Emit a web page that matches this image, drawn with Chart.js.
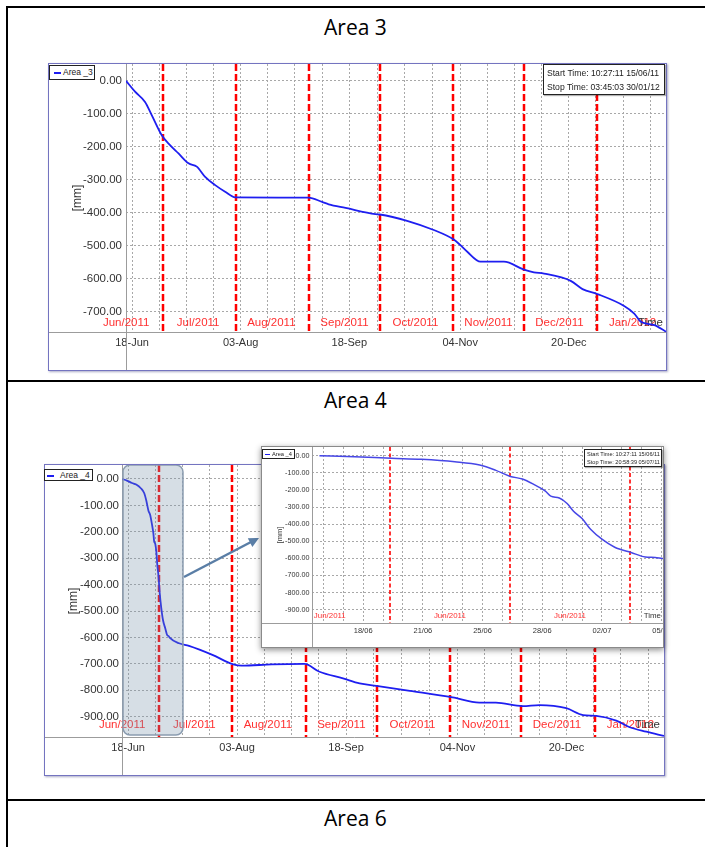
<!DOCTYPE html>
<html>
<head>
<meta charset="utf-8">
<title>Area 3 / Area 4</title>
<script src="https://cdn.jsdelivr.net/npm/chart.js@4.4.1/dist/chart.umd.min.js"></script>
<style>
  body { margin: 0; background: #fff; }
  #page { position: relative; width: 705px; height: 847px; overflow: hidden; font-family: 'Liberation Sans', Arial, sans-serif; }
  .rule { position: absolute; background: #000; }
  .cap { position: absolute; left: 8px; width: 695px; text-align: center; font-family: 'Open Sans', sans-serif; font-size: 21px; line-height: 30px; color: #000; }
  .frame { position: absolute; border: 1px solid #7474c0; box-shadow: 1px 1px 2px rgba(70, 70, 130, .45); background: #fff; overflow: hidden; }
  .frame canvas { position: absolute; left: 0; top: 0; }
  .legend { position: absolute; box-sizing: border-box; background: #fff; border: 1px solid #222; color: #222; white-space: nowrap; z-index: 5; }
  .legend i { display: inline-block; background: #1e1ef0; vertical-align: middle; }
  .info { position: absolute; box-sizing: border-box; background: #fff; border: 1.5px solid #222; box-shadow: 1px 1px 1px rgba(0, 0, 0, .3); color: #222; white-space: nowrap; z-index: 5; }
</style>
</head>
<body>
<div id="page">
  <div class="rule" style="left:6px;top:6px;width:699px;height:2px"></div>
  <div class="rule" style="left:6px;top:6px;width:2px;height:841px"></div>
  <div class="rule" style="left:6px;top:380px;width:699px;height:2px"></div>
  <div class="rule" style="left:6px;top:799px;width:699px;height:2px"></div>

  <div class="cap" style="top:12px">Area 3</div>
  <div class="cap" style="top:385px">Area 4</div>
  <div class="cap" style="top:803px">Area 6</div>

  <!-- chart1 : Area 3 -->
  <div class="frame" style="left:48px;top:63px;width:617px;height:306px">
    <canvas id="chart1" width="617" height="306"></canvas>
  </div>
  <div class="legend" style="left:49px;top:65px;width:46px;height:15px;font-size:8.5px;line-height:13px">
    <i style="width:7px;height:1.5px;margin:0 2px 0 4px"></i>Area _3
  </div>
  <div class="info" style="left:543px;top:64px;width:122px;height:31px;font-size:8.6px;line-height:14px;padding:1px 0 0 3px">
    Start Time: 10:27:11 15/06/11<br>Stop Time: 03:45:03 30/01/12
  </div>

  <!-- chart2 : Area 4 -->
  <div class="frame" style="left:44px;top:464px;width:619px;height:310px;z-index:1">
    <canvas id="chart2" width="619" height="310"></canvas>
  </div>
  <div class="legend" style="left:44px;top:469px;width:49px;height:12px;font-size:8.5px;line-height:10px">
    <i style="width:7px;height:1.5px;margin:0 6px 0 2px"></i>Area _4
  </div>

  <svg style="position:absolute;left:0;top:0;z-index:2" width="705" height="847">
    <line x1="184" y1="577" x2="251" y2="542" stroke="#5a7ea6" stroke-width="2.5"/>
    <polygon points="259,538 252.4,547 247.8,538.2" fill="#5a7ea6"/>
  </svg>

  <!-- chart3 : Area 4 zoom -->
  <div class="frame" style="left:261px;top:446px;width:401px;height:200px;z-index:3;border-color:#8a8a8a;box-shadow:0 2px 6px rgba(0,0,0,.45)">
    <canvas id="chart3" width="406" height="200"></canvas>
  </div>
  <div class="legend" style="left:262px;top:449px;width:33px;height:10px;font-size:5.7px;line-height:8px;z-index:6">
    <i style="width:5px;height:1px;margin:0 2px 0 2px"></i>Area _4
  </div>
  <div class="info" style="left:584px;top:449px;width:78px;height:18px;font-size:5.6px;line-height:8px;padding:0 0 0 2px;border-width:1px;z-index:6">
    Start Time: 10:27:11 15/06/11<br>Stop Time: 20:58:39 05/07/11
  </div>
</div>

<script>
  "use strict";

  // data
  var area3Start = '2011-06-15 10:27';
  var area3Stop = '2012-01-30 03:45';
  var area3Dates = ['2011-06-15 10:27', '2011-06-19 06:30', '2011-06-23 12:00', '2011-06-26 08:00', '2011-06-30 14:00',
    '2011-07-04 02:00', '2011-07-07 16:00', '2011-07-11 22:00', '2011-07-15 10:00', '2011-07-18 23:00', '2011-07-23 05:00',
    '2011-07-27 10:00', '2011-07-31 17:00', '2011-08-31 19:00', '2011-09-06 12:00', '2011-09-09 07:00', '2011-09-16 10:00',
    '2011-09-29 02:00', '2011-09-30 22:00', '2011-10-12 12:00', '2011-10-23 19:00', '2011-11-01 07:00', '2011-11-04 02:00',
    '2011-11-07 00:00', '2011-11-12 14:00', '2011-11-22 12:00', '2011-12-01 00:00', '2011-12-05 05:00', '2011-12-09 12:00',
    '2011-12-20 19:00', '2011-12-25 19:00', '2012-01-01 02:00', '2012-01-12 10:00', '2012-01-16 17:00', '2012-01-19 12:00',
    '2012-01-25 05:00', '2012-01-30 03:45'];
  var area3Values = [0, -33, -64, -104, -165,
    -195, -220, -250, -260, -291, -316,
    -336, -353, -354, -367, -374, -385,
    -404, -405, -424, -452, -481, -498,
    -518, -548, -548, -572, -580, -584,
    -606, -631, -646, -682, -705, -730,
    -740, -760];

  var area4Start = '2011-06-15 10:27';
  var area4Stop = '2012-01-30 03:45';
  var area4Dates = ['2011-06-15 10:27', '2011-06-17 12:00', '2011-06-19 16:00', '2011-06-21 10:00', '2011-06-23 09:00',
    '2011-06-24 20:00', '2011-06-25 18:00', '2011-06-26 15:00', '2011-06-27 08:00', '2011-06-28 02:00', '2011-06-28 16:00',
    '2011-06-29 00:00', '2011-06-29 12:00', '2011-06-29 23:00', '2011-06-30 08:00', '2011-06-30 20:00', '2011-07-01 08:00',
    '2011-07-02 00:00', '2011-07-02 18:00', '2011-07-03 17:00', '2011-07-04 13:00', '2011-07-05 03:00', '2011-07-05 13:00',
    '2011-07-09 12:00', '2011-07-13 17:00', '2011-07-23 14:00', '2011-08-01 10:00', '2011-08-04 22:00', '2011-08-17 14:00',
    '2011-08-31 10:00', '2011-09-06 19:00', '2011-09-16 17:00', '2011-09-23 17:00', '2011-09-30 19:00', '2011-10-14 22:00',
    '2011-11-01 22:00', '2011-11-13 05:00', '2011-11-20 05:00', '2011-12-01 12:00', '2011-12-08 14:00', '2011-12-19 22:00',
    '2011-12-27 00:00', '2012-01-01 14:00', '2012-01-10 00:00', '2012-01-15 17:00', '2012-01-22 17:00', '2012-01-30 03:45'];
  var area4Values = [0, -6, -15, -21, -35,
    -54, -84, -121, -136, -172, -205,
    -236, -247, -279, -325, -367, -430,
    -488, -535, -566, -592, -595, -601,
    -622, -632, -666, -702, -707, -702,
    -700, -730, -755, -774, -783, -802,
    -827, -847, -847, -860, -856, -868,
    -894, -897, -915, -940, -957, -973];

  var insetStart = '2011-06-15 00:00';
  var insetStop = '2011-07-05 20:58';
  var highlightRange = ['2011-06-15 10:27', '2011-07-11 04:00'];

  var monthStarts = ['2011-07-01', '2011-08-01', '2011-09-01', '2011-10-01', '2011-11-01', '2011-12-01', '2012-01-01'];
  var monthLabels = ['Jun/2011', 'Jul/2011', 'Aug/2011', 'Sep/2011', 'Oct/2011', 'Nov/2011', 'Dec/2011', 'Jan/2012'];
  var monthLabelDates = ['2011-06-15 12:00', '2011-07-16', '2011-08-16', '2011-09-16', '2011-10-16', '2011-11-16', '2011-12-16', '2012-01-16'];

  var mainTickDates = ['2011-06-18', '2011-08-03', '2011-09-18', '2011-11-04', '2011-12-20'];
  var mainTickLabels = ['18-Jun', '03-Aug', '18-Sep', '04-Nov', '20-Dec'];

  var insetWeekStarts = ['2011-06-19 14:00', '2011-06-26 15:00', '2011-07-03 16:00'];
  var insetWeekLabels = ['Jun/2011', 'Jun/2011', 'Jun/2011'];
  var insetWeekLabelDates = ['2011-06-16 01:00', '2011-06-23 02:00', '2011-06-30 03:00'];
  var insetTickDates = ['2011-06-18', '2011-06-21 12:00', '2011-06-25', '2011-06-28 12:00', '2011-07-02', '2011-07-05 12:00'];
  var insetTickLabels = ['18/06', '21/06', '25/06', '28/06', '02/07', '05/07'];

  var yTicks3 = [0, -100, -200, -300, -400, -500, -600, -700];
  var yTicks4 = [0, -100, -200, -300, -400, -500, -600, -700, -800, -900];

  // days since 1 June 2011
  var T0 = Date.UTC(2011, 5, 1);
  function toDay(s) {
    var p = s.split(/[- :]/);
    return (Date.UTC(+p[0], p[1] - 1, +p[2], +(p[3] || 0), +(p[4] || 0)) - T0) / 864e5;
  }
  function points(dates, values) {
    return dates.map(function(d, i) { return {x: toDay(d), y: values[i]}; });
  }
  // labelled ticks plus evenly spaced minor grid lines between them
  function gridTicks(dates, labels, parts, min, max) {
    var v = dates.map(toDay), out = [];
    var step = (v[1] - v[0]) / parts;
    for (var t = v[0] - step; t >= min; t -= step) out.unshift({value: t, lbl: ''});
    for (var i = 0; i < v.length; i++) {
      out.push({value: v[i], lbl: labels[i]});
      var s = i < v.length - 1 ? (v[i + 1] - v[i]) / parts : step;
      var n = i < v.length - 1 ? parts - 1 : 1000;
      for (var k = 1; k <= n && v[i] + k * s <= max; k++) out.push({value: v[i] + k * s, lbl: ''});
    }
    return out;
  }

  Chart.defaults.font.family = "'Liberation Sans', Arial, sans-serif";

  // red month lines, month names, "Time", axis lines, highlight box
  var markers = {
    id: 'markers',
    beforeDatasetsDraw: function(chart, args, o) {
      var ctx = chart.ctx, a = chart.chartArea, x = chart.scales.x;
      ctx.save();
      ctx.strokeStyle = '#9c9c9c';
      ctx.lineWidth = 1;
      ctx.beginPath();
      ctx.moveTo(a.left + 0.5, 0);
      ctx.lineTo(a.left + 0.5, chart.height);
      ctx.moveTo(0, a.bottom + 0.5);
      ctx.lineTo(chart.width, a.bottom + 0.5);
      ctx.stroke();

      ctx.strokeStyle = '#ff0000';
      ctx.lineWidth = o.redWidth;
      ctx.setLineDash(o.redDash);
      o.lines.forEach(function(d) {
        var px = Math.round(x.getPixelForValue(toDay(d)));
        ctx.beginPath();
        ctx.moveTo(px, a.top);
        ctx.lineTo(px, a.bottom);
        ctx.stroke();
      });
      ctx.setLineDash([]);

      ctx.font = o.font;
      ctx.textBaseline = 'middle';
      ctx.textAlign = 'center';
      ctx.fillStyle = '#ff3030';
      o.labels.forEach(function(t, i) {
        ctx.fillText(t, x.getPixelForValue(toDay(o.labelAt[i])), a.bottom - o.labelOffset);
      });
      ctx.textAlign = 'right';
      ctx.fillStyle = '#333';
      ctx.fillText('Time', a.right - o.timeRight, a.bottom - o.labelOffset);
      ctx.restore();
    },
    afterDatasetsDraw: function(chart, args, o) {
      if (!o.box) return;
      var ctx = chart.ctx, a = chart.chartArea, x = chart.scales.x;
      var l = x.getPixelForValue(toDay(o.box[0])) + 1, r = x.getPixelForValue(toDay(o.box[1]));
      ctx.save();
      ctx.beginPath();
      ctx.roundRect(l, a.top, r - l, a.bottom - a.top - 2, 7);
      ctx.fillStyle = 'rgba(120, 145, 170, 0.3)';
      ctx.fill();
      ctx.strokeStyle = '#8a9cb0';
      ctx.lineWidth = 1.5;
      ctx.stroke();
      ctx.restore();
    }
  };

  function yAxis(min, max, ticks, width, size, pad, titleSize, titlePad) {
    return {
      min: min,
      max: max,
      afterBuildTicks: function(s) { s.ticks = ticks.map(function(v) { return {value: v}; }); },
      afterFit: function(s) { s.width = width; s.paddingTop = 0; s.paddingBottom = 0; },
      grid: {color: '#a8a8a8', lineWidth: 1, drawTicks: false},
      border: {display: false, dash: [2, 2]},
      ticks: {autoSkip: false, padding: pad, color: '#333', font: {size: size},
        callback: function(v) { return v.toFixed(2); }},
      title: {display: true, text: '[mm]', color: '#333', font: {size: titleSize}, padding: {top: titlePad, bottom: 0}}
    };
  }
  function xAxis(min, max, dates, labels, parts, height, size, pad) {
    return {
      type: 'linear',
      min: min,
      max: max,
      afterBuildTicks: function(s) { s.ticks = gridTicks(dates, labels, parts, min, max); },
      afterFit: function(s) { s.height = height; s.paddingLeft = 0; s.paddingRight = 0; },
      grid: {color: '#a8a8a8', lineWidth: 1, drawTicks: false},
      border: {display: false, dash: [2, 2]},
      ticks: {autoSkip: false, maxRotation: 0, padding: pad, color: '#333', font: {size: size},
        callback: function(v, i, t) { return t[i].lbl; }}
    };
  }

  // chart1
  var ctx = document.getElementById('chart1').getContext('2d');
  var myChart = new Chart(ctx, {
    type: 'line',
    data: {
      datasets: [{
        label: 'Area _3',
        data: points(area3Dates, area3Values),
        borderColor: '#1e1ef0',
        borderWidth: 1.8,
        pointRadius: 0,
        fill: false,
        cubicInterpolationMode: 'monotone'
      }]
    },
    options: {
      responsive: false,
      animation: false,
      events: [],
      layout: {padding: 0, autoPadding: false},
      plugins: {
        legend: {display: false},
        tooltip: {enabled: false},
        markers: {lines: monthStarts, labels: monthLabels, labelAt: monthLabelDates,
          redWidth: 2.5, redDash: [7, 3], font: '11.5px "Liberation Sans"', labelOffset: 9, timeRight: 3}
      },
      scales: {
        x: xAxis(toDay(area3Start), toDay(area3Stop), mainTickDates, mainTickLabels, 4, 38, 11, 4),
        y: yAxis(-761, 51, yTicks3, 77, 11.5, 4, 12, 21)
      }
    },
    plugins: [markers]
  });

  // chart2
  ctx = document.getElementById('chart2').getContext('2d');
  myChart = new Chart(ctx, {
    type: 'line',
    data: {
      datasets: [{
        label: 'Area _4',
        data: points(area4Dates, area4Values),
        borderColor: '#1e1ef0',
        borderWidth: 1.8,
        pointRadius: 0,
        fill: false,
        cubicInterpolationMode: 'monotone'
      }]
    },
    options: {
      responsive: false,
      animation: false,
      events: [],
      layout: {padding: 0, autoPadding: false},
      plugins: {
        legend: {display: false},
        tooltip: {enabled: false},
        markers: {lines: monthStarts, labels: monthLabels, labelAt: monthLabelDates,
          redWidth: 2.5, redDash: [7, 3], font: '11.5px "Liberation Sans"', labelOffset: 12, timeRight: 4,
          box: highlightRange}
      },
      scales: {
        x: xAxis(toDay(area4Start), toDay(area4Stop), mainTickDates, mainTickLabels, 4, 38, 11, 4),
        y: yAxis(-977, 53, yTicks4, 77, 11.5, 3, 12, 21)
      }
    },
    plugins: [markers]
  });

  // chart3 (zoom of the first three weeks)
  ctx = document.getElementById('chart3').getContext('2d');
  myChart = new Chart(ctx, {
    type: 'line',
    data: {
      datasets: [{
        label: 'Area _4',
        data: points(area4Dates, area4Values),
        borderColor: '#4646e6',
        borderWidth: 1.5,
        pointRadius: 0,
        fill: false,
        cubicInterpolationMode: 'monotone'
      }]
    },
    options: {
      responsive: false,
      animation: false,
      events: [],
      layout: {padding: 0, autoPadding: false},
      plugins: {
        legend: {display: false},
        tooltip: {enabled: false},
        markers: {lines: insetWeekStarts, labels: insetWeekLabels, labelAt: insetWeekLabelDates,
          redWidth: 1.6, redDash: [4, 2.5], font: '7.9px "Liberation Sans"', labelOffset: 7, timeRight: 7}
      },
      scales: {
        x: xAxis(toDay(insetStart), toDay(insetStop), insetTickDates, insetTickLabels, 3, 24, 7.5, 3),
        y: yAxis(-978, 51, yTicks4, 50, 7.2, 2.5, 7.5, 13.5)
      }
    },
    plugins: [markers]
  });
</script>
</body>
</html>
